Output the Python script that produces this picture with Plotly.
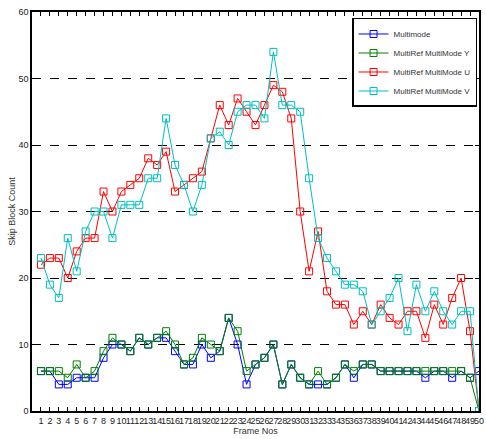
import plotly.graph_objects as go

frames = list(range(1, 51))

multimode = [6, 6, 4, 4, 5, 5, 5, 8, 10, 10, 9, 11, 10, 11, 11, 9, 7, 7, 10, 8,
             9, 14, 10, 4, 7, 8, 10, 4, 7, 5, 4, 4, 4, 5, 7, 5, 7, 7, 6, 6,
             6, 6, 6, 5, 6, 6, 5, 6, 5, 6]
multiref_y = [6, 6, 6, 5, 7, 5, 6, 9, 11, 10, 9, 11, 10, 11, 12, 10, 7, 8, 11, 10,
              9, 14, 12, 6, 7, 8, 10, 4, 7, 5, 4, 6, 4, 5, 7, 6, 7, 7, 6, 6,
              6, 6, 6, 6, 6, 6, 6, 6, 5, 0]
multiref_u = [22, 23, 23, 20, 24, 26, 26, 33, 30, 33, 34, 35, 38, 37, 39, 33, 34, 35, 36, 41,
              46, 43, 47, 45, 43, 46, 49, 48, 44, 30, 21, 27, 18, 16, 16, 13, 15, 13, 16, 14,
              13, 15, 15, 11, 16, 13, 17, 20, 12, 0]
multiref_v = [23, 19, 17, 26, 21, 27, 30, 30, 26, 31, 31, 31, 35, 35, 44, 37, 34, 30, 34, 41,
              42, 40, 45, 46, 46, 44, 54, 46, 46, 45, 35, 26, 23, 21, 19, 19, 18, 13, 15, 17,
              20, 12, 19, 15, 18, 15, 13, 15, 15, 0]

series = [
    ("Multimode", multimode, "#0000ff"),
    ("MultiRef MultiMode Y", multiref_y, "#008000"),
    ("MultiRef MultiMode U", multiref_u, "#ff0000"),
    ("MultiRef MultiMode V", multiref_v, "#00bfbf"),
]

FONT = "Liberation Sans Narrow, Liberation Sans, Arial, sans-serif"

fig = go.Figure()
for name, vals, color in series:
    fig.add_trace(go.Scatter(
        x=frames, y=vals, name=name, mode="lines+markers",
        line=dict(color=color, width=1),
        marker=dict(symbol="square-open", size=7, color=color, line=dict(width=1, color=color)),
    ))

fig.update_layout(
    width=486, height=439,
    margin=dict(l=32, r=2, t=12, b=28),
    paper_bgcolor="white", plot_bgcolor="white",
    font=dict(family=FONT, size=9, color="#222"),
    showlegend=True,
    legend=dict(
        x=0.9956, y=0.985, xanchor="right", yanchor="top",
        bgcolor="white", bordercolor="black", borderwidth=1.5,
        font=dict(family=FONT, size=8, color="#333"),
        tracegroupgap=0, itemwidth=30,
    ),
)

fig.update_xaxes(
    range=[0, 50], tickmode="array", tickvals=frames,
    ticktext=[str(f) for f in frames], tickangle=0,
    ticklabeloverflow="allow",
    ticks="inside", ticklen=4, tickcolor="black",
    showline=True, linecolor="black", linewidth=1.5, mirror="ticks",
    showgrid=False, zeroline=False,
    tickfont=dict(family=FONT, size=9, color="#222"),
    title=dict(text="Frame Nos", font=dict(family=FONT, size=9, color="#333"), standoff=3),
)
fig.update_yaxes(
    range=[0, 60], tickmode="array", tickvals=[0, 10, 20, 30, 40, 50, 60],
    ticks="inside", ticklen=4, tickcolor="black",
    showline=True, linecolor="black", linewidth=1.5, mirror="ticks",
    showgrid=True, gridcolor="black", gridwidth=1, griddash="dash",
    zeroline=False,
    tickfont=dict(family=FONT, size=9, color="#222"),
    title=dict(text="Skip Block Count", font=dict(family=FONT, size=9, color="#333"), standoff=1),
)

fig.write_html("out.html")
